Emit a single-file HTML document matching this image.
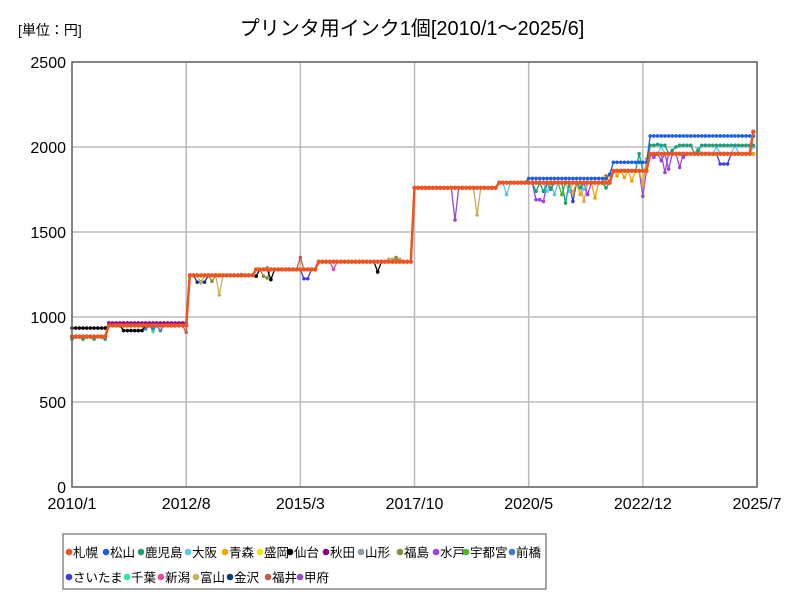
<!DOCTYPE html>
<html><head><meta charset="utf-8"><style>
body{margin:0;background:#fff;font-family:"Liberation Sans","Noto Sans CJK JP",sans-serif}
svg text{font-family:"Liberation Sans","Noto Sans CJK JP",sans-serif}
</style></head><body>
<svg id="c" width="800" height="600" xmlns="http://www.w3.org/2000/svg">
<rect width="800" height="600" fill="#fff"/>
<text x="18" y="35" font-size="14">[単位：円]</text>
<text x="412" y="35" font-size="20" text-anchor="middle">プリンタ用インク1個[2010/1～2025/6]</text>
<g id="grid"></g><g id="series"></g><g id="axes"></g>
<rect x="63" y="534" width="483" height="55" fill="#fff" stroke="#888" stroke-width="1.5"/>
<g id="legend"></g>
</svg>
<script>
const yTicks=[0,500,1000,1500,2000,2500];
const xTickLabels=["2010/1","2012/8","2015/3","2017/10","2020/5","2022/12","2025/7"];
const xTickMonths=[0,31,62,93,124,155,186];
const baseSegments=[[885,10],[950,22],[1245,18],[1280,17],[1325,26],[1760,23],[1790,31],[1860,10],[1960,29]];
const cityNames=["札幌","松山","鹿児島","大阪","青森","盛岡","仙台","秋田","山形","福島","水戸","宇都宮","前橋","さいたま","千葉","新潟","富山","金沢","福井","甲府"];
const cityColors=["#ee5420","#1a5ee8","#1a9e77","#5ec4ee","#f2a400","#f5e600","#000000","#8b008b","#8a9aa8","#8e8a3c","#9b3df0","#4cb82c","#3a7fd0","#3a3ae8","#2ee8a0","#e04aa0","#c8b060","#0c3c70","#c85a40","#9a48d0"];
const cityDeviations=[
 [[185,2090]],
 [[124,1815],[125,1815],[126,1815],[127,1815],[128,1815],[129,1815],[130,1815],[131,1815],[132,1815],[133,1815],[134,1815],[135,1815],[136,1815],[137,1815],[138,1815],[139,1815],[140,1815],[141,1815],[142,1815],[143,1815],[144,1815],[145,1815],[146,1840],[147,1910],[148,1910],[149,1910],[150,1910],[151,1910],[152,1910],[153,1910],[154,1910],[155,1910],[156,1910],[157,2065],[158,2065],[159,2065],[160,2065],[161,2065],[162,2065],[163,2065],[164,2065],[165,2065],[166,2065],[167,2065],[168,2065],[169,2065],[170,2065],[171,2065],[172,2065],[173,2065],[174,2065],[175,2065],[176,2065],[177,2065],[178,2065],[179,2065],[180,2065],[181,2065],[182,2065],[183,2065],[184,2065],[185,2065]],
 [[0,870],[3,870],[6,870],[9,870],[126,1740],[128,1740],[130,1750],[134,1670],[138,1760],[145,1760],[154,1960],[157,2010],[158,2010],[159,2015],[160,2010],[161,2010],[163,1980],[164,2000],[165,2010],[166,2010],[167,2010],[168,2010],[170,1980],[171,2010],[172,2010],[173,2010],[174,2010],[175,2010],[176,2010],[177,2010],[178,2010],[179,2010],[180,2010],[181,2010],[182,2010],[183,2010],[184,2010],[185,2010]],
 [[1,880],[5,880],[8,880],[118,1720],[129,1740],[131,1720],[135,1740],[139,1750],[160,2000],[170,1990],[175,2000],[180,2010],[185,2000]],
 [[136,1730],[138,1720],[142,1700],[145,1820],[146,1830],[148,1830],[150,1820],[152,1800],[155,1780],[156,1930],[185,1960]],
 [],
 [[0,935],[1,935],[2,935],[3,935],[4,935],[5,935],[6,935],[7,935],[8,935],[9,935],[14,920],[15,920],[16,920],[17,920],[18,920],[19,920],[50,1240],[54,1220],[83,1265]],
 [[10,965],[11,965],[12,965],[13,965],[14,965],[15,965],[16,965],[17,965],[18,965],[19,965],[20,965],[21,965],[22,965],[23,965],[24,965],[25,965],[26,965],[27,965],[28,965],[29,965],[30,965],[31,965]],
 [[53,1290]],
 [[38,1210],[52,1240],[53,1230],[88,1350]],
 [[126,1690],[127,1690],[128,1680],[140,1720],[158,1940],[160,1920],[162,1870],[166,1940],[180,1960]],
 [[133,1720],[141,1790],[145,1790]],
 [[20,930],[22,930],[24,920],[46,1250]],
 [[63,1225],[64,1225],[136,1680],[176,1900],[177,1900],[178,1900]],
 [[2,880],[4,880],[22,915]],
 [[71,1280],[146,1790]],
 [[40,1130],[35,1200],[86,1340],[87,1340],[88,1340],[89,1340],[110,1600],[139,1680]],
 [[34,1205],[35,1205],[36,1205]],
 [[31,910],[62,1350],[130,1760],[145,1830]],
 [[104,1570],[155,1710],[161,1850],[165,1880]]
];
const months=186;
const base=[];baseSegments.forEach(s=>{for(let k=0;k<s[1];k++)base.push(s[0]);});
const X0=72,X1=757,Y0=487,Y1=62,YMAX=2500;
const xs=m=>X0+m*(X1-X0)/months;
const ys=v=>Y0-v*(Y0-Y1)/YMAX;
const NS="http://www.w3.org/2000/svg";
const mk=(t,a,p)=>{const e=document.createElementNS(NS,t);for(const k in a)e.setAttribute(k,a[k]);p.appendChild(e);return e;};
const grid=document.getElementById('grid'),axes=document.getElementById('axes');
yTicks.forEach(v=>{
 const l=mk('line',{x1:X0,x2:X1,y1:ys(v),y2:ys(v),stroke:'#bbb','stroke-width':1.5},grid);
 
 
 const t=mk('text',{x:X0-6,y:ys(v)+6,'font-size':16,'text-anchor':'end'},axes);t.textContent=v;
 
 
});
xTickMonths.forEach((m,i)=>{
 const l=mk('line',{x1:xs(m),x2:xs(m),y1:Y1,y2:Y0,stroke:'#bbb','stroke-width':1.5},grid);
 
 
 const t=mk('text',{x:xs(m),y:Y0+22,'font-size':16,'text-anchor':'middle'},axes);t.textContent=xTickLabels[i];
 
 
});
const frame=mk('rect',{x:X0,y:Y1,width:X1-X0,height:Y0-Y1,fill:'none',stroke:'#666','stroke-width':1.5},axes);


const sg=document.getElementById('series');
const order=[];for(let i=cityNames.length-1;i>=0;i--)order.push(i);
order.forEach(ci=>{
 const vals=base.slice();
 cityDeviations[ci].forEach(d=>{vals[d[0]]=d[1];});
 const g=mk('g',{},sg);
 
 
 const pts=vals.map((v,m)=>xs(m).toFixed(1)+','+ys(v).toFixed(1)).join(' ');
 mk('polyline',{points:pts,fill:'none',stroke:cityColors[ci],'stroke-width':ci===0?2.5:1.3},g);
 vals.forEach((v,m)=>{
  const c=mk('circle',{cx:xs(m),cy:ys(v),r:ci===0?2.2:1.8,fill:cityColors[ci]},g);
  
  
 });
});
const lg=document.getElementById('legend');
const lx1=[66,103,138,185,222,257,287,323,358,397,433,463,509];
const lx2=[66,124,158,193,227,265,297];
cityNames.forEach((n,i)=>{
 const row=i<13?0:1;
 const x=row?lx2[i-13]:lx1[i], y=row?582:557;
 const g=mk('g',{},lg);
 
 
 mk('circle',{cx:x+3,cy:y-5,r:3.3,fill:cityColors[i]},g);
 const t=mk('text',{x:x+7,y:y,'font-size':12.5},g);t.textContent=n;
});
</script>
</body></html>
